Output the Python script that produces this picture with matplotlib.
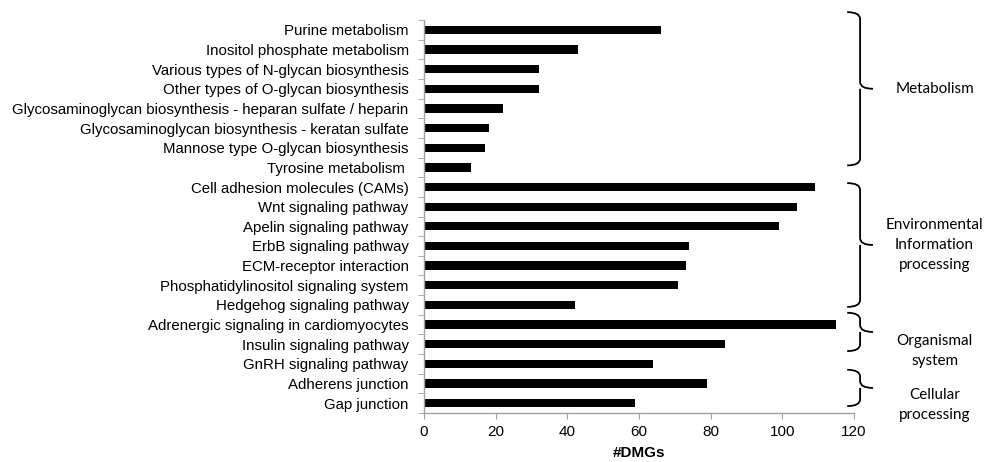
import numpy as np
import matplotlib
matplotlib.use('Agg')
import matplotlib.pyplot as plt
from matplotlib.path import Path
from matplotlib.patches import PathPatch

# KEGG pathways (top to bottom) and number of DMGs
pathways = [
    'Purine metabolism',
    'Inositol phosphate metabolism',
    'Various types of N-glycan biosynthesis',
    'Other types of O-glycan biosynthesis',
    'Glycosaminoglycan biosynthesis - heparan sulfate / heparin',
    'Glycosaminoglycan biosynthesis - keratan sulfate',
    'Mannose type O-glycan biosynthesis',
    'Tyrosine metabolism ',
    'Cell adhesion molecules (CAMs)',
    'Wnt signaling pathway',
    'Apelin signaling pathway',
    'ErbB signaling pathway',
    'ECM-receptor interaction',
    'Phosphatidylinositol signaling system',
    'Hedgehog signaling pathway',
    'Adrenergic signaling in cardiomyocytes',
    'Insulin signaling pathway',
    'GnRH signaling pathway',
    'Adherens junction',
    'Gap junction',
]
dmgs = [66, 43, 32, 32, 22, 18, 17, 13,
        109, 104, 99, 74, 73, 71, 42,
        115, 84, 64,
        79, 59]

group_names = ['Metabolism', 'Environmental\nInformation\nprocessing',
               'Organismal\nsystem', 'Cellular\nprocessing']
group_sizes = [8, 7, 3, 2]

# brace extents relative to first/last category, and label offsets (hand tuned)
brace_pad = [(-0.9, -0.1), (-0.2, 0.1), (-0.6, -0.65), (-0.7, 0.15)]
label_dy = [0.0, 0.0, 0.95, 0.85]

fig = plt.figure(figsize=(9.9, 4.62), dpi=100)
ax = fig.add_axes([424 / 990, 1 - 413 / 462, 430 / 990, 393 / 462])

y = np.arange(len(pathways))
ax.barh(y, dmgs, height=0.42, color='black')

ax.set_xlim(0, 120)
ax.set_ylim(len(pathways) - 0.5, -0.5)
ax.set_xticks(np.arange(0, 121, 20))
ax.set_yticks(y)
ax.set_yticklabels(pathways, fontsize=10.8, family='Liberation Sans')
ax.tick_params(axis='y', length=0, pad=11)
ax.set_yticks(np.arange(-0.5, len(pathways), 1), minor=True)
ax.tick_params(axis='y', which='minor', length=4, color='#a0a0a0', direction='out')
ax.tick_params(axis='x', length=4, color='#a0a0a0', labelsize=11, pad=5)
for lab in ax.get_xticklabels():
    lab.set_family('Liberation Sans')
for s in ['top', 'right']:
    ax.spines[s].set_visible(False)
for s in ['left', 'bottom']:
    ax.spines[s].set_color('#a0a0a0')
    ax.spines[s].set_linewidth(1)

ax.set_xlabel('#DMGs', fontsize=11, fontweight='bold', family='Liberation Sans',
              labelpad=5)


def brace(ax, y0, y1, x0=118.1, x1=121.7, x2=125.3):
    # right-facing curly brace from y0 to y1
    ym = (y0 + y1) / 2
    r = 0.35
    verts = [(x0, y0), (x1, y0), (x1, y0 + r),
             (x1, ym - r), (x1, ym), (x2, ym),
             (x1, ym), (x1, ym + r),
             (x1, y1 - r), (x1, y1), (x0, y1)]
    codes = [Path.MOVETO, Path.CURVE3, Path.CURVE3,
             Path.LINETO, Path.CURVE3, Path.CURVE3,
             Path.MOVETO, Path.CURVE3,
             Path.LINETO, Path.CURVE3, Path.CURVE3]
    ax.add_patch(PathPatch(Path(verts, codes), fill=False, lw=1.3,
                           edgecolor='black', clip_on=False))
    return ym


start = 0
for name, n, pad, dy in zip(group_names, group_sizes, brace_pad, label_dy):
    y0 = start + pad[0]
    y1 = start + n - 1 + pad[1]
    ym = brace(ax, y0, y1)
    ax.text(142.5, ym + dy, name, ha='center', va='center', fontsize=11,
            family='Lato', linespacing=1.53, clip_on=False)
    start += n

fig.savefig('out.png', dpi=100)
